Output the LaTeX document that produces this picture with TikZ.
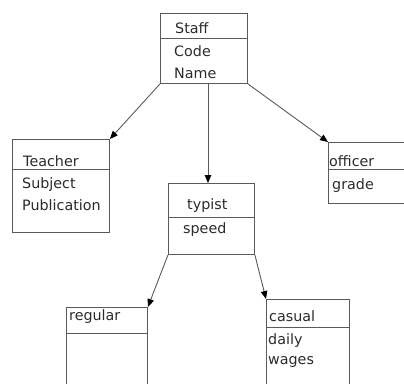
\documentclass[tikz,border=0pt]{standalone}
\usepackage{fontspec}
\setmainfont{DejaVu Sans}
\usetikzlibrary{arrows.meta,calc}
\definecolor{boxgray}{HTML}{5A5A5A}
\definecolor{textgray}{HTML}{2A2A2A}
\begin{document}
\begin{tikzpicture}[x=1pt,y=-1pt,
  box/.style={draw=boxgray, line width=0.9pt, rectangle, inner sep=0pt, anchor=north west},
  divline/.style={draw=boxgray, line width=0.9pt},
  lbl/.style={anchor=base west, inner sep=0pt, font=\fontsize{14.3}{17}\selectfont, text=textgray},
  link/.style={draw=boxgray, line width=0.9pt, -{Triangle[length=8pt,width=6.5pt,fill=black,color=black]}}]
\useasboundingbox (0,0) rectangle (404,383);
\clip (0,0) rectangle (404,383);
% boxes
\node[box, minimum width=87pt, minimum height=70pt] (staff) at (160,13) {};
\node[box, minimum width=97pt, minimum height=93pt] (teacher) at (12,139) {};
\node[box, minimum width=90pt, minimum height=61pt] (officer) at (328,142) {};
\node[box, minimum width=86pt, minimum height=71pt] (typist) at (168,183) {};
\node[box, minimum width=81pt, minimum height=90pt] (regular) at (66,307) {};
\node[box, minimum width=83pt, minimum height=95pt] (casual) at (266,299) {};
% dividers
\draw[divline] ($(staff.north west)+(0,25)$) -- ($(staff.north east)+(0,25)$);
\draw[divline] ($(teacher.north west)+(0,30)$) -- ($(teacher.north east)+(0,30)$);
\draw[divline] ($(officer.north west)+(0,27)$) -- ($(officer.north east)+(0,27)$);
\draw[divline] ($(typist.north west)+(0,34)$) -- ($(typist.north east)+(0,34)$);
\draw[divline] ($(regular.north west)+(0,26)$) -- ($(regular.north east)+(0,26)$);
\draw[divline] ($(casual.north west)+(0,28)$) -- ($(casual.north east)+(0,28)$);
% labels
\node[lbl] (tstaff) at (175,33) {Staff};
\node[lbl] (tcode) at (174,56) {Code};
\node[lbl] (tname) at (174,78) {Name};
\node[lbl] (tteacher) at (23,166) {Teacher};
\node[lbl] (tsubject) at (22,188) {Subject};
\node[lbl] (tpub) at (22,210) {Publication};
\node[lbl] (tofficer) at (329,166) {officer};
\node[lbl] (tgrade) at (332,189) {grade};
\node[lbl] (ttypist) at (187,209) {typist};
\node[lbl] (tspeed) at (183,233) {speed};
\node[lbl] (tregular) at (69,320) {regular};
\node[lbl] (tcasual) at (269,321) {casual};
\node[lbl] (tdaily) at (268,344) {daily};
\node[lbl] (twages) at (268,364) {wages};
% connectors
\coordinate (sdown) at ($(staff.south west)+(48,0)$);
\draw[link] (staff.south west) -- (teacher.north east);
\draw[link] (sdown) -- (sdown |- typist.north);
\draw[link] (staff.south east) -- (officer.north west);
\draw[link] (typist.south west) -- (regular.north east);
\draw[link] (typist.south east) -- (casual.north west);
\end{tikzpicture}
\end{document}
